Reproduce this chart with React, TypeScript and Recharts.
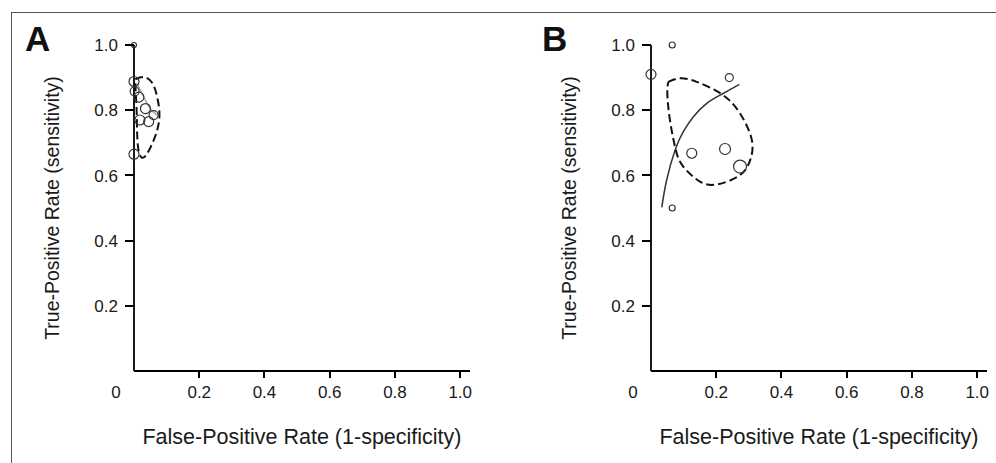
import React from 'react';
import { ComposedChart, Line, Scatter, XAxis, YAxis } from 'recharts';

// axis ticks and titles
const xTicks = [0, 0.2, 0.4, 0.6, 0.8, 1.0];
const yTicks = [0.2, 0.4, 0.6, 0.8, 1.0];
const xTitle = 'False-Positive Rate (1-specificity)';
const yTitle = 'True-Positive Rate (sensitivity)';

// Panel A: study estimates (r = marker radius), confidence region, SROC curve
const studiesA = [
  { x: 0.0, y: 1.0, r: 2.5 },
  { x: 0.0, y: 0.888, r: 5 },
  { x: 0.002, y: 0.858, r: 4.5 },
  { x: 0.015, y: 0.84, r: 5 },
  { x: 0.035, y: 0.805, r: 5 },
  { x: 0.018, y: 0.77, r: 5 },
  { x: 0.045, y: 0.765, r: 5 },
  { x: 0.06, y: 0.785, r: 4.5 },
  { x: 0.0, y: 0.665, r: 5 },
];
const regionA = [
  { x: 0.004, y: 0.895 },
  { x: 0.03, y: 0.902 },
  { x: 0.055, y: 0.885 },
  { x: 0.07, y: 0.845 },
  { x: 0.078, y: 0.79 },
  { x: 0.07, y: 0.735 },
  { x: 0.05, y: 0.685 },
  { x: 0.03, y: 0.655 },
  { x: 0.016, y: 0.668 },
  { x: 0.01, y: 0.72 },
  { x: 0.008, y: 0.8 },
  { x: 0.005, y: 0.86 },
  { x: 0.004, y: 0.895 },
];
const srocA = [
  { x: 0.01, y: 0.88 },
  { x: 0.03, y: 0.84 },
  { x: 0.05, y: 0.805 },
  { x: 0.07, y: 0.785 },
];

// Panel B
const studiesB = [
  { x: 0.065, y: 1.0, r: 3 },
  { x: 0.0, y: 0.91, r: 5 },
  { x: 0.24, y: 0.9, r: 4 },
  { x: 0.125, y: 0.668, r: 5 },
  { x: 0.227, y: 0.681, r: 5.5 },
  { x: 0.273, y: 0.627, r: 6.5 },
  { x: 0.065, y: 0.5, r: 3 },
];
const regionB = [
  { x: 0.053, y: 0.887 },
  { x: 0.089, y: 0.898 },
  { x: 0.14, y: 0.887 },
  { x: 0.217, y: 0.849 },
  { x: 0.273, y: 0.79 },
  { x: 0.309, y: 0.709 },
  { x: 0.304, y: 0.647 },
  { x: 0.273, y: 0.601 },
  { x: 0.206, y: 0.573 },
  { x: 0.15, y: 0.581 },
  { x: 0.099, y: 0.627 },
  { x: 0.076, y: 0.678 },
  { x: 0.058, y: 0.77 },
  { x: 0.05, y: 0.852 },
  { x: 0.053, y: 0.887 },
];
const srocB = [
  { x: 0.033, y: 0.502 },
  { x: 0.048, y: 0.586 },
  { x: 0.074, y: 0.678 },
  { x: 0.099, y: 0.734 },
  { x: 0.13, y: 0.78 },
  { x: 0.171, y: 0.821 },
  { x: 0.217, y: 0.849 },
  { x: 0.271, y: 0.879 },
];

const FONT = '"Liberation Sans", Arial, sans-serif';
const INK = '#1a1a1a';
const X_TICK = 7;
const X_GAP = 8;
const Y_TICK = 9;
const Y_GAP = 7;

// tick marks drawn as thin rects; 0 has no mark and sits left of the origin
const XTick = (props: any) => {
  const { x, y, payload } = props;
  const axisY = Math.round(y - X_TICK - X_GAP);
  const zero = payload.value === 0;
  return (
    <g>
      {!zero && <rect x={Math.round(x) - 1} y={axisY} width={2} height={X_TICK} fill="#000" />}
      <text
        x={zero ? x - 18 : x}
        y={y}
        dy="0.71em"
        textAnchor="middle"
        fontFamily={FONT}
        fontSize={17}
        fill={INK}
      >
        {zero ? '0' : payload.value.toFixed(1)}
      </text>
    </g>
  );
};

const YTick = (props: any) => {
  const { x, y, payload } = props;
  const axisX = Math.round(x + Y_TICK + Y_GAP);
  return (
    <g>
      <rect x={axisX - Y_TICK} y={Math.round(y) - 1} width={Y_TICK} height={2} fill="#000" />
      <text x={x} y={y} dy="0.36em" textAnchor="end" fontFamily={FONT} fontSize={17} fill={INK}>
        {payload.value.toFixed(1)}
      </text>
    </g>
  );
};

const circleShape = (p: any) => (
  <circle cx={p.cx} cy={p.cy} r={p.payload.r} fill="none" stroke="#333" strokeWidth={1.2} />
);

interface PanelProps {
  left: number;
  width: number;
  letter: string;
  studies: { x: number; y: number; r: number }[];
  region: { x: number; y: number }[];
  sroc: { x: number; y: number }[];
  srocColor: string;
}

function Panel({ left, width, letter, studies, region, sroc, srocColor }: PanelProps) {
  return (
    <div style={{ position: 'absolute', left, top: 0, width, height: 463 }}>
      <div
        style={{
          position: 'absolute',
          left: 25,
          top: 21,
          fontFamily: FONT,
          fontWeight: 'bold',
          fontSize: 35,
          lineHeight: '35px',
          color: '#111',
        }}
      >
        {letter}
      </div>
      <ComposedChart
        width={width}
        height={463}
        margin={{ top: 45, right: width - 470, bottom: 19, left: 74 }}
      >
        <XAxis
          type="number"
          dataKey="x"
          domain={[0, 1.03]}
          ticks={xTicks}
          tickLine={false}
          tickSize={X_TICK}
          tickMargin={X_GAP}
          tick={<XTick />}
          height={73}
          axisLine={{ stroke: '#000', strokeWidth: 1.8 }}
          label={{ value: xTitle, position: 'insideBottom', offset: 0, fontFamily: FONT, fontSize: 21.5, fill: INK }}
        />
        <YAxis
          type="number"
          dataKey="y"
          domain={[0, 1]}
          ticks={yTicks}
          width={60}
          tickSize={Y_TICK}
          tickMargin={Y_GAP}
          tickLine={false}
          tick={<YTick />}
          axisLine={{ stroke: '#000', strokeWidth: 1.8 }}
          label={{
            value: yTitle,
            angle: -90,
            position: 'insideLeft',
            offset: -22,
            fontFamily: FONT,
            fontSize: 19.5,
            fill: INK,
            style: { textAnchor: 'middle' },
          }}
        />
        <Line
          data={sroc}
          dataKey="y"
          type="natural"
          stroke={srocColor}
          strokeWidth={1.5}
          dot={false}
          isAnimationActive={false}
        />
        <Line
          data={region}
          dataKey="y"
          type="natural"
          stroke="#111"
          strokeWidth={2}
          strokeDasharray="8 4"
          dot={false}
          isAnimationActive={false}
        />
        <Scatter data={studies} dataKey="y" shape={circleShape} isAnimationActive={false} />
      </ComposedChart>
    </div>
  );
}

export default function App() {
  return (
    <div style={{ position: 'absolute', left: 0, top: 0, width: 996, height: 463, background: '#fff', overflow: 'hidden' }}>
      <div
        style={{
          position: 'absolute',
          left: 11,
          top: 12,
          width: 990,
          height: 460,
          borderTop: '1px solid #555',
          borderLeft: '1px solid #555',
        }}
      />
      <Panel left={0} width={500} letter="A" studies={studiesA} region={regionA} sroc={srocA} srocColor="#aaa" />
      <Panel left={517} width={479} letter="B" studies={studiesB} region={regionB} sroc={srocB} srocColor="#333" />
    </div>
  );
}
